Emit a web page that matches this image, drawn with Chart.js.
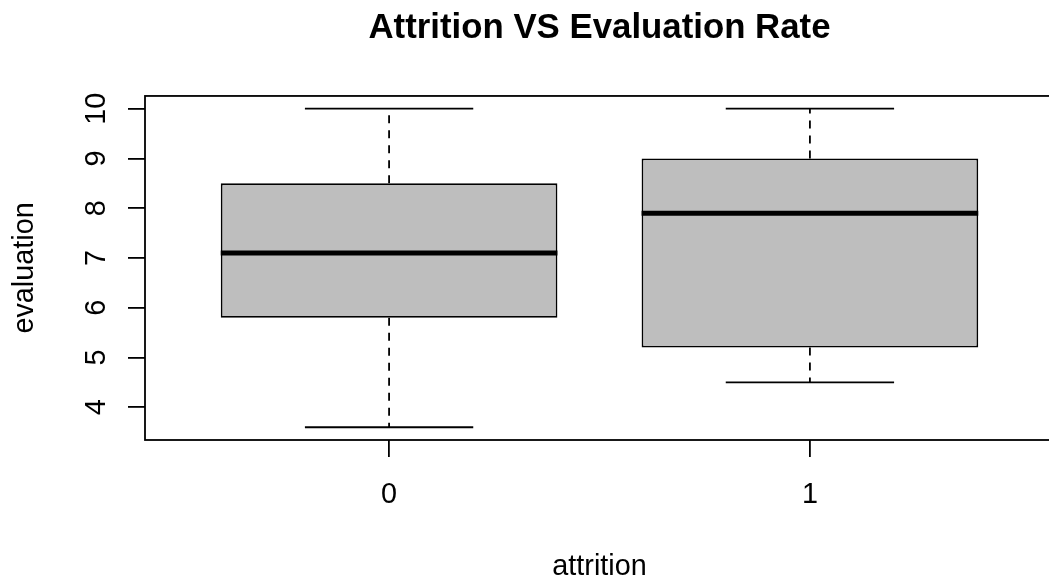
<!DOCTYPE html>
<html lang="en">
<head>
  <meta charset="UTF-8" />
  <title>Attrition VS Evaluation Rate</title>
  <script src="https://cdn.jsdelivr.net/npm/chart.js"></script>
  <style>
    html, body { margin: 0; padding: 0; background: #fff; overflow: hidden; }
    #wrap { width: 1054px; height: 580px; }
  </style>
</head>
<body>
  <div id="wrap"><canvas id="boxChart" width="1054" height="580"></canvas></div>
  <script>
    // five-number summaries per attrition group
    const groups = ['0', '1'];
    const whiskerLow = [3.6, 4.5];
    const q1 = [5.8, 5.2];
    const medians = [7.1, 7.9];
    const q3 = [8.5, 9.0];
    const whiskerHigh = [10, 10];
    const yTicks = [4, 5, 6, 7, 8, 9, 10];

    const FONT = "'Liberation Sans', Arial, sans-serif";
    const BASE = 28.8;
    const INK = '#000';
    const LW = 1.8;

    const seg = (pts, extra) => Object.assign({
      type: 'line',
      data: pts,
      borderColor: INK,
      borderWidth: LW,
      pointRadius: 0,
      fill: false,
      order: 1
    }, extra);

    const datasets = [{
      type: 'bar',
      data: groups.map((g, i) => ({ x: i + 1, y: [q1[i], q3[i]] })),
      backgroundColor: '#bebebe',
      borderColor: INK,
      borderWidth: LW,
      borderSkipped: false,
      barPercentage: 0.8,
      categoryPercentage: 1,
      order: 2
    }];

    groups.forEach((g, i) => {
      const x = i + 1;
      datasets.push(seg([{ x, y: q3[i] }, { x, y: whiskerHigh[i] }], { borderDash: [8, 7] }));
      datasets.push(seg([{ x, y: q1[i] }, { x, y: whiskerLow[i] }], { borderDash: [8, 7] }));
      datasets.push(seg([{ x: x - 0.2, y: whiskerHigh[i] }, { x: x + 0.2, y: whiskerHigh[i] }]));
      datasets.push(seg([{ x: x - 0.2, y: whiskerLow[i] }, { x: x + 0.2, y: whiskerLow[i] }]));
      datasets.push(seg([{ x: x - 0.4, y: medians[i] }, { x: x + 0.4, y: medians[i] }], { borderWidth: 5, order: 0 }));
    });

    // frame around the plot region
    const frame = {
      id: 'frame',
      afterDraw(chart) {
        const { ctx, chartArea: a } = chart;
        ctx.save();
        ctx.strokeStyle = INK;
        ctx.lineWidth = LW;
        ctx.strokeRect(a.left, a.top, a.right - a.left, a.bottom - a.top);
        ctx.restore();
      }
    };

    // y tick labels drawn parallel to the axis
    const yLabels = {
      id: 'yLabels',
      afterDraw(chart) {
        const { ctx } = chart;
        const scale = chart.scales.y;
        ctx.save();
        ctx.fillStyle = INK;
        ctx.font = `${BASE}px ${FONT}`;
        ctx.textAlign = 'center';
        ctx.textBaseline = 'alphabetic';
        scale.ticks.forEach(t => {
          ctx.save();
          ctx.translate(104.5, scale.getPixelForValue(t.value));
          ctx.rotate(-Math.PI / 2);
          ctx.fillText(String(t.value), 0, 0);
          ctx.restore();
        });
        ctx.restore();
      }
    };

    new Chart(document.getElementById('boxChart'), {
      type: 'bar',
      data: { datasets },
      plugins: [frame, yLabels],
      options: {
        responsive: false,
        animation: false,
        layout: { padding: 0 },
        plugins: {
          legend: { display: false },
          tooltip: { enabled: false },
          title: {
            display: true,
            text: 'Attrition VS Evaluation Rate',
            color: INK,
            fullSize: false,
            font: { family: FONT, size: 34.8, weight: 'bold', lineHeight: 1.2 },
            padding: { top: 8, bottom: 46.2 }
          }
        },
        scales: {
          x: {
            type: 'linear',
            min: 0.42,
            max: 2.58,
            offset: false,
            afterBuildTicks: s => { s.ticks = groups.map((g, i) => ({ value: i + 1 })); },
            afterFit: s => { s.height = 140; },
            border: { display: false },
            grid: { offset: false, drawOnChartArea: false, drawTicks: true, tickLength: 17, color: INK, lineWidth: LW },
            ticks: {
              color: INK,
              padding: 20.5,
              maxRotation: 0,
              autoSkip: false,
              font: { family: FONT, size: BASE },
              callback: v => groups[v - 1]
            },
            title: {
              display: true,
              text: 'attrition',
              color: INK,
              font: { family: FONT, size: BASE, lineHeight: 1 },
              padding: { top: 0, bottom: -1.4 }
            }
          },
          y: {
            min: 3.344,
            max: 10.256,
            afterBuildTicks: s => { s.ticks = yTicks.map(v => ({ value: v })); },
            afterFit: s => { s.width = 145; },
            border: { display: false },
            grid: { drawOnChartArea: false, drawTicks: true, tickLength: 17, color: INK, lineWidth: LW },
            ticks: { display: false },
            title: {
              display: true,
              text: 'evaluation',
              color: INK,
              font: { family: FONT, size: BASE, lineHeight: 1.2 },
              padding: { top: 7.7, bottom: 0 }
            }
          }
        }
      }
    });
  </script>
</body>
</html>
